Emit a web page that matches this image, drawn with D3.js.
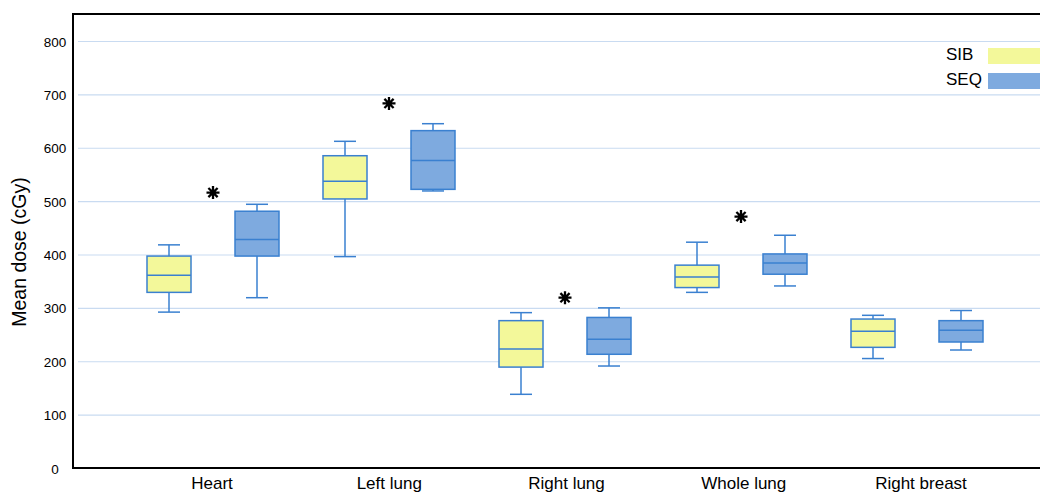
<!DOCTYPE html>
<html>
<head>
<meta charset="utf-8">
<script src="https://cdnjs.cloudflare.com/ajax/libs/d3/7.8.5/d3.min.js"></script>
<style>
  body { margin: 0; background: #fff; }
  svg { display: block; font-family: "Liberation Sans", Arial, sans-serif; }
</style>
</head>
<body>
<div class="svg_container"></div>
<script>
// data (cGy)
var categories = ['Heart', 'Left lung', 'Right lung', 'Whole lung', 'Right breast'];
var groups = ['SIB', 'SEQ'];
var yTicks = [0, 100, 200, 300, 400, 500, 600, 700, 800];

var sibMin = [293, 397, 139, 330, 206];
var sibQ1  = [330, 505, 190, 339, 227];
var sibMed = [362, 538, 224, 359, 257];
var sibQ3  = [398, 586, 277, 381, 280];
var sibMax = [419, 613, 292, 424, 287];

var seqMin = [320, 520, 192, 342, 222];
var seqQ1  = [398, 523, 214, 364, 237];
var seqMed = [429, 577, 242, 385, 259];
var seqQ3  = [482, 633, 283, 402, 277];
var seqMax = [495, 646, 301, 437, 296];

// significance markers (centre, in data units), null = none
var starAt = [517, 684, 320, 472, null];

var fills = { SIB: '#f3f89a', SEQ: '#7eaadf' };
var stroke = '#3a80d0';

var W = 1040, H = 492;
var frame = { left: 73, top: 14, bottom: 468 };

var svg = d3.select('.svg_container').append('svg')
  .attr('width', W)
  .attr('height', H);

// scales
var x = d3.scaleBand()
  .domain(categories)
  .range([125, 1005])
  .padding(0);
var xg = d3.scalePoint()
  .domain(groups)
  .range([44, 132]);
// labels sit on a slightly wider step than the boxes
var xLabel = d3.scalePoint()
  .domain(categories)
  .range([212, 921]);
var y = d3.scaleLinear()
  .domain([0, 800])
  .range([468.5, 41.5]);

var boxW = 44, capW = 22;

// gridlines
svg.append('g')
  .selectAll('line')
  .data(yTicks.filter(function(d) { return d > 0; }))
  .enter().append('line')
  .attr('x1', 78).attr('x2', W)
  .attr('y1', function(d) { return y(d); })
  .attr('y2', function(d) { return y(d); })
  .attr('stroke', '#c9dbf1')
  .attr('stroke-width', 1.2);

// y tick labels
svg.append('g')
  .selectAll('text')
  .data(yTicks)
  .enter().append('text')
  .attr('x', 55)
  .attr('y', function(d) { return y(d) + 5; })
  .attr('text-anchor', 'middle')
  .attr('font-size', 13.5)
  .attr('fill', '#000')
  .text(function(d) { return d; });

// y title
svg.append('text')
  .attr('transform', 'translate(26,252) rotate(-90)')
  .attr('text-anchor', 'middle')
  .attr('font-size', 19.5)
  .text('Mean dose (cGy)');

// build box rows
var rows = [];
categories.forEach(function(c, i) {
  rows.push({ cat: c, grp: 'SIB', min: sibMin[i], q1: sibQ1[i], med: sibMed[i], q3: sibQ3[i], max: sibMax[i] });
  rows.push({ cat: c, grp: 'SEQ', min: seqMin[i], q1: seqQ1[i], med: seqMed[i], q3: seqQ3[i], max: seqMax[i] });
});

var box = svg.append('g').selectAll('g')
  .data(rows)
  .enter().append('g')
  .attr('transform', function(d) { return 'translate(' + (x(d.cat) + xg(d.grp)) + ',0)'; });

// whiskers
box.append('line')
  .attr('x1', 0).attr('x2', 0)
  .attr('y1', function(d) { return y(d.max); })
  .attr('y2', function(d) { return y(d.min); })
  .attr('stroke', stroke).attr('stroke-width', 1.5);
box.append('line')
  .attr('x1', -capW / 2).attr('x2', capW / 2)
  .attr('y1', function(d) { return y(d.max); })
  .attr('y2', function(d) { return y(d.max); })
  .attr('stroke', stroke).attr('stroke-width', 1.5);
box.append('line')
  .attr('x1', -capW / 2).attr('x2', capW / 2)
  .attr('y1', function(d) { return y(d.min); })
  .attr('y2', function(d) { return y(d.min); })
  .attr('stroke', stroke).attr('stroke-width', 1.5);

// boxes
box.append('rect')
  .attr('x', -boxW / 2)
  .attr('width', boxW)
  .attr('y', function(d) { return y(d.q3); })
  .attr('height', function(d) { return y(d.q1) - y(d.q3); })
  .attr('fill', function(d) { return fills[d.grp]; })
  .attr('stroke', stroke).attr('stroke-width', 1.5);
box.append('line')
  .attr('x1', -boxW / 2).attr('x2', boxW / 2)
  .attr('y1', function(d) { return y(d.med); })
  .attr('y2', function(d) { return y(d.med); })
  .attr('stroke', stroke).attr('stroke-width', 1.5);

// asterisks (eight-armed marker)
svg.append('g')
  .selectAll('path')
  .data(categories.filter(function(c, i) { return starAt[i] != null; }))
  .enter().append('path')
  .attr('transform', function(c) {
    return 'translate(' + (x(c) + x.bandwidth() / 2) + ',' + y(starAt[categories.indexOf(c)]) + ')';
  })
  .attr('d', 'M0,-6.5V6.5M-6.5,0H6.5M-4.6,-4.6L4.6,4.6M-4.6,4.6L4.6,-4.6')
  .attr('stroke', '#000')
  .attr('stroke-width', 2.3)
  .attr('fill', 'none');

// frame
svg.append('path')
  .attr('d', 'M' + W + ',' + frame.top + 'H' + frame.left + 'V' + frame.bottom + 'H' + W)
  .attr('fill', 'none')
  .attr('stroke', '#000')
  .attr('stroke-width', 2);

// category labels
svg.append('g')
  .selectAll('text')
  .data(categories)
  .enter().append('text')
  .attr('x', function(c) { return xLabel(c); })
  .attr('y', 489)
  .attr('text-anchor', 'middle')
  .attr('font-size', 17)
  .text(function(c) { return c; });

// legend
var legend = svg.append('g').selectAll('g')
  .data(groups)
  .enter().append('g')
  .attr('transform', function(d, i) { return 'translate(946,' + (48 + i * 25) + ')'; });
legend.append('text')
  .attr('x', 0).attr('y', 12)
  .attr('font-size', 17)
  .text(function(d) { return d; });
legend.append('rect')
  .attr('x', 42).attr('y', 0)
  .attr('width', 70).attr('height', 16)
  .attr('fill', function(d) { return fills[d]; });
</script>
</body>
</html>
